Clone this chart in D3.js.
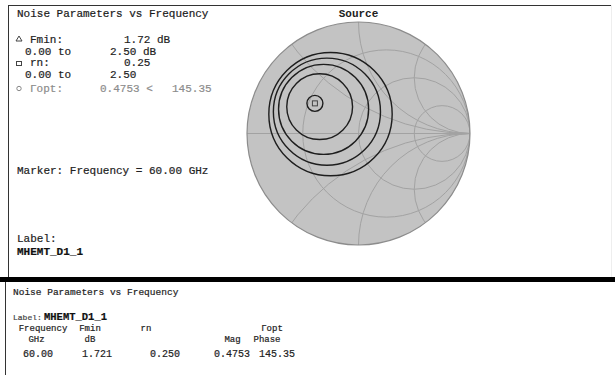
<!DOCTYPE html>
<html>
<head>
<meta charset="utf-8">
<script src="https://cdn.jsdelivr.net/npm/d3@7"></script>
<style>
body { margin: 0; background: #fff; }
text { font-family: "Liberation Mono", monospace; fill: #222; }
</style>
</head>
<body>
<svg id="chart" width="615" height="375"></svg>
<script>
// values at the marker
var freqGHz = [60.00];
var fminDb = [1.721];
var rnNorm = [0.250];
var gammaOptMag = [0.4753];
var gammaOptAng = [145.35];
// noise figure circles, dB
var nfCircles = [2.46, 3.11, 3.70, 4.38];
// smith chart grid
var rGrid = [1/3, 1, 3];
var xGrid = [0.5, 1, 2];
// table headings
var headRow1 = ["Frequency", "Fmin", "rn", "\u0393opt"];
var headRow2 = ["GHz", "dB", "Mag", "Phase"];

var svg = d3.select("#chart");

// frame
svg.append("line").attr("x1", 8).attr("x2", 612).attr("y1", 5.5).attr("y2", 5.5)
    .style("stroke", "#333").style("stroke-width", 1);
svg.append("line").attr("x1", 8.5).attr("x2", 8.5).attr("y1", 5).attr("y2", 278)
    .style("stroke", "#333");
svg.append("line").attr("x1", 611.5).attr("x2", 611.5).attr("y1", 5).attr("y2", 278)
    .style("stroke", "#eee");
svg.append("rect").attr("x", 0).attr("y", 277).attr("width", 615).attr("height", 5)
    .style("fill", "#000");
svg.append("line").attr("x1", 5.5).attr("x2", 5.5).attr("y1", 282).attr("y2", 375)
    .style("stroke", "#333");

// Smith chart
var xs = d3.scaleLinear().domain([-1, 1]).range([247, 470]);
var ys = d3.scaleLinear().domain([-1, 1]).range([245, 22]);
var k = xs(1) - xs(0);

var smith = svg.append("g");
smith.append("clipPath").attr("id", "unit")
    .append("circle").attr("cx", xs(0)).attr("cy", ys(0)).attr("r", k);

smith.append("circle").attr("cx", xs(0)).attr("cy", ys(0)).attr("r", k)
    .style("fill", "#c3c3c3").style("stroke", "none");

var grid = smith.append("g").attr("clip-path", "url(#unit)")
    .style("fill", "none").style("stroke", "#a2a2a2").style("stroke-width", 1);

grid.selectAll(".rc").data(rGrid).enter().append("circle")
    .attr("class", "rc")
    .attr("cx", function(r) { return xs(r / (1 + r)); })
    .attr("cy", ys(0))
    .attr("r", function(r) { return k / (1 + r); });

grid.selectAll(".xp").data(xGrid).enter().append("circle")
    .attr("class", "xp")
    .attr("cx", xs(1))
    .attr("cy", function(x) { return ys(1 / x); })
    .attr("r", function(x) { return k / x; });

grid.selectAll(".xn").data(xGrid).enter().append("circle")
    .attr("class", "xn")
    .attr("cx", xs(1))
    .attr("cy", function(x) { return ys(-1 / x); })
    .attr("r", function(x) { return k / x; });

grid.append("line").attr("x1", xs(-1)).attr("x2", xs(1)).attr("y1", ys(0)).attr("y2", ys(0));

smith.append("circle").attr("cx", xs(0)).attr("cy", ys(0)).attr("r", k)
    .style("fill", "none").style("stroke", "#8c8c8c").style("stroke-width", 1.2);

// noise circles
function noiseCircle(nf, fmin, rn, mag, ang) {
    var F = Math.pow(10, nf / 10), Fm = Math.pow(10, fmin / 10);
    var a = ang * Math.PI / 180;
    var gr = mag * Math.cos(a), gi = mag * Math.sin(a);
    var N = (F - Fm) / (4 * rn) * ((1 + gr) * (1 + gr) + gi * gi);
    return { re: gr / (1 + N), im: gi / (1 + N), r: Math.sqrt(N * (N + 1 - mag * mag)) / (1 + N) };
}

var circles = nfCircles.map(function(nf) {
    return noiseCircle(nf, fminDb[0], rnNorm[0], gammaOptMag[0], gammaOptAng[0]);
});

smith.selectAll(".nc").data(circles).enter().append("circle")
    .attr("class", "nc")
    .attr("cx", function(d) { return xs(d.re); })
    .attr("cy", function(d) { return ys(d.im); })
    .attr("r", function(d) { return d.r * k; })
    .style("fill", "none").style("stroke", "#1e1e1e").style("stroke-width", 1.4);

// gamma opt marker
var ga = gammaOptAng[0] * Math.PI / 180;
var gx = xs(gammaOptMag[0] * Math.cos(ga)), gy = ys(gammaOptMag[0] * Math.sin(ga));
smith.append("circle").attr("cx", gx).attr("cy", gy).attr("r", 8)
    .style("fill", "none").style("stroke", "#1e1e1e").style("stroke-width", 1.4);
smith.append("rect").attr("x", gx - 2.5).attr("y", gy - 2.5).attr("width", 5).attr("height", 5)
    .style("fill", "none").style("stroke", "#444").style("stroke-width", 1);

svg.append("text").attr("x", xs(0)).attr("y", 17).attr("text-anchor", "middle")
    .style("font-size", "11px").style("font-weight", "bold").text("Source");

// legend panel
var f2 = d3.format(".2f"), f3 = d3.format(".3f"), f4 = d3.format(".4f");
var legend = svg.append("g").style("font-size", "11px");
function put(g, x, y, s, col, bold) {
    return g.append("text").attr("x", x).attr("y", y).text(s)
        .style("fill", col || "#222").style("stroke", col || "#222").style("stroke-width", 0.2)
        .style("font-weight", bold ? "bold" : "normal");
}
put(legend, 17, 17, "Noise Parameters vs Frequency", "#1a1a1a");
legend.append("path").attr("d", "M19,36L22,41L16,41Z").style("fill", "none").style("stroke", "#444");
put(legend, 30, 43, "Fmin:");
put(legend, 124, 43, f2(fminDb[0]) + " dB");
put(legend, 25, 55, "0.00 to");
put(legend, 110, 55, "2.50 dB");
legend.append("rect").attr("x", 16.5).attr("y", 61.5).attr("width", 5).attr("height", 4)
    .style("fill", "none").style("stroke", "#444");
put(legend, 30, 66, "rn:");
put(legend, 124, 66, f2(rnNorm[0]));
put(legend, 25, 78, "0.00 to");
put(legend, 110, 78, "2.50");
legend.append("circle").attr("cx", 19).attr("cy", 88.5).attr("r", 2.2)
    .style("fill", "none").style("stroke", "#888");
put(legend, 30, 92, "\u0393opt:", "#8c8c8c");
put(legend, 100, 92, f4(gammaOptMag[0]) + " <", "#8c8c8c");
put(legend, 172, 92, f2(gammaOptAng[0]), "#8c8c8c");
put(legend, 17, 174, "Marker: Frequency = " + f2(freqGHz[0]) + " GHz");
put(legend, 17, 242, "Label:");
put(legend, 17, 255, "MHEMT_D1_1", "#111", true);

// data table
var bot = svg.append("g").style("font-size", "10px");
put(bot, 13, 295, "Noise Parameters vs Frequency").style("font-size", "9.5px");
var lbl = put(bot, 13, 320, "", "#444");
lbl.append("tspan").style("font-size", "8px").text("Label:");
lbl.append("tspan").attr("x", 44).style("font-size", "10.5px").style("font-weight", "bold")
    .style("fill", "#111").style("stroke", "#111").text("MHEMT_D1_1");
var h1x = [43, 90, 146, 272];
headRow1.forEach(function(s, i) {
    put(bot, h1x[i], 331, s).attr("text-anchor", "middle").style("font-size", "9px");
});
var h2x = [36.5, 90, 232.5, 267];
headRow2.forEach(function(s, i) {
    put(bot, h2x[i], 342, s).attr("text-anchor", "middle").style("font-size", "9px");
});
var rowVals = [f2(freqGHz[0]), f3(fminDb[0]), f3(rnNorm[0]), f4(gammaOptMag[0]), f2(gammaOptAng[0])];
var rx = [38, 97, 165, 232, 277];
rowVals.forEach(function(s, i) { put(bot, rx[i], 357, s).attr("text-anchor", "middle"); });
</script>
</body>
</html>
